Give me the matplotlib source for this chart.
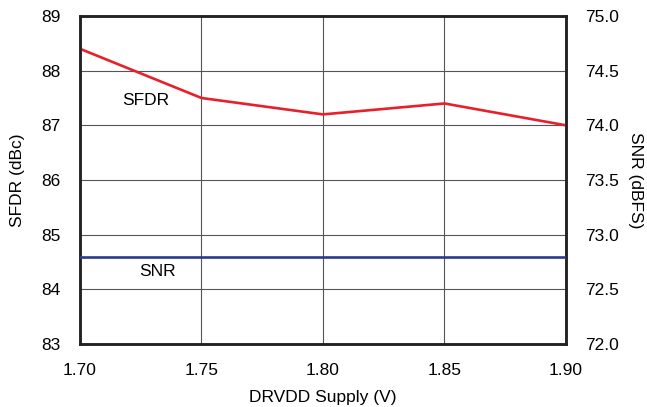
import matplotlib
matplotlib.use('Agg')
import matplotlib.pyplot as plt

### Data

supply = [1.70, 1.75, 1.80, 1.85, 1.90]
sfdr = [88.4, 87.5, 87.2, 87.4, 87.0]
snr = [72.8, 72.8, 72.8, 72.8, 72.8]

x_ticks = [1.70, 1.75, 1.80, 1.85, 1.90]
sfdr_ticks = [83, 84, 85, 86, 87, 88, 89]
snr_ticks = [72.0, 72.5, 73.0, 73.5, 74.0, 74.5, 75.0]

plt.rcParams['font.family'] = ['Liberation Sans', 'DejaVu Sans']

### Figure

fig = plt.figure(figsize=(6.47, 4.07), dpi=100)
ax = fig.add_axes([0.1236, 0.1548, 0.7512, 0.8059])
ax2 = ax.twinx()

ax.plot(supply, sfdr, color='#e8202a', lw=1.9, zorder=3)
ax2.plot(supply, snr, color='#2b3a8f', lw=1.9, zorder=3)

ax.set_xlim(1.70, 1.90)
ax.set_ylim(83, 89)
ax2.set_ylim(72, 75)

ax.set_xticks(x_ticks)
ax.set_xticklabels(['%.2f' % v for v in x_ticks])
ax.set_yticks(sfdr_ticks)
ax2.set_yticks(snr_ticks)
ax2.set_yticklabels(['%.1f' % v for v in snr_ticks])

ax.grid(True, color='#555555', lw=0.8)
ax.tick_params(axis='y', length=0, labelsize=12.5, pad=14)
ax.tick_params(axis='x', length=0, labelsize=12.5, pad=14)
ax2.tick_params(length=0, labelsize=12.5, pad=14)

for a in (ax, ax2):
    for s in a.spines.values():
        s.set_linewidth(1.8)
        s.set_color('#222222')

ax.set_xlabel('DRVDD Supply (V)', size=12.5, labelpad=8)
ax.set_ylabel('SFDR (dBc)', size=12.5, va='center')
ax.yaxis.set_label_coords(-0.128, 0.5)
ax2.set_ylabel('SNR (dBFS)', size=12.5, rotation=270, va='center')
ax2.yaxis.set_label_coords(1.142, 0.5)

ax.text(1.727, 87.46, 'SFDR', fontsize=12.5, ha='center', va='center')
ax.text(1.732, 84.32, 'SNR', fontsize=12.5, ha='center', va='center')

fig.savefig('out.png', dpi=100)
plt.close(fig)
